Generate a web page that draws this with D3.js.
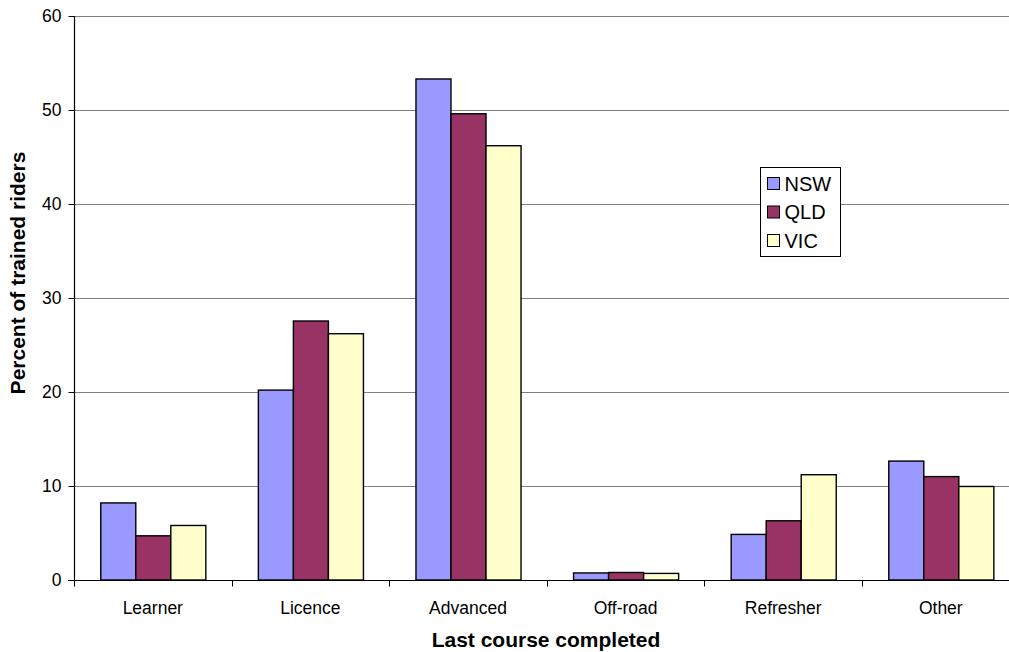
<!DOCTYPE html>
<html>
<head>
<meta charset="utf-8">
<script src="https://cdn.jsdelivr.net/npm/d3@7"></script>
<style>
  html, body { margin: 0; padding: 0; background: #fff; overflow: hidden; }
  svg { display: block; font-family: "Liberation Sans", Arial, sans-serif; }
</style>
</head>
<body>
<svg id="chart" width="1009" height="652"></svg>
<script>
// Last course completed by trained riders, by state (percent)
const categories = ["Learner", "Licence", "Advanced", "Off-road", "Refresher", "Other"];
const seriesNames = ["NSW", "QLD", "VIC"];
const nsw = [8.2, 20.2, 53.3, 0.75, 4.85, 12.65];
const qld = [4.7, 27.55, 49.6, 0.8, 6.3, 11.0];
const vic = [5.8, 26.2, 46.2, 0.7, 11.2, 9.95];
const seriesColors = ["#9999FF", "#993366", "#FFFFCC"];
const yTicks = [0, 10, 20, 30, 40, 50, 60];

const values = [nsw, qld, vic];

(function draw() {
  const svg = d3.select("#chart");
  const plotLeft = 74, plotTop = 16, plotBottom = 580;
  const bandW = 157.6;
  const plotRight = plotLeft + bandW * categories.length;

  const x0 = d3.scaleBand().domain(categories).range([plotLeft, plotRight]).padding(0);
  const x1 = d3.scaleBand().domain(seriesNames)
    .range([x0.bandwidth() / 6, x0.bandwidth() * 5 / 6]).padding(0);
  const y = d3.scaleLinear().domain([0, 60]).range([plotBottom, plotTop]);

  // Horizontal gridlines
  svg.append("g")
    .selectAll("line")
    .data(yTicks.filter(t => t > 0))
    .join("line")
    .attr("x1", plotLeft).attr("x2", plotRight)
    .attr("y1", d => Math.round(y(d)) + 0.5).attr("y2", d => Math.round(y(d)) + 0.5)
    .attr("stroke", "#808080").attr("stroke-width", 1);

  // Bars
  const groups = svg.append("g")
    .selectAll("g")
    .data(categories)
    .join("g")
    .attr("transform", d => `translate(${x0(d)},0)`);

  groups.selectAll("rect")
    .data((c, i) => seriesNames.map((s, j) => ({ s, j, v: values[j][i] })))
    .join("rect")
    .attr("x", d => x1(d.s) + 0.5)
    .attr("y", d => y(d.v))
    .attr("width", x1.bandwidth())
    .attr("height", d => y(0) - y(d.v))
    .attr("fill", d => seriesColors[d.j])
    .attr("stroke", "#000")
    .attr("stroke-width", 1.4);

  // Y axis
  const yAxis = svg.append("g")
    .attr("transform", `translate(${plotLeft + 0.5},0)`)
    .call(d3.axisLeft(y).tickValues(yTicks).tickSize(6).tickPadding(7).tickFormat(d3.format("d")));
  yAxis.select(".domain").attr("stroke", "#000").attr("stroke-width", 1.2)
    .attr("d", `M0,${plotTop}V${plotBottom}`);
  yAxis.selectAll(".tick line").attr("stroke", "#000");
  yAxis.selectAll(".tick text").attr("font-size", 17.5).attr("fill", "#000")
    .attr("font-family", "Liberation Sans, Arial, sans-serif");

  // X axis with ticks at category boundaries
  const xAxisG = svg.append("g").attr("transform", `translate(0,${plotBottom + 0.5})`);
  xAxisG.append("line")
    .attr("x1", plotLeft - 6).attr("x2", plotRight)
    .attr("stroke", "#000").attr("stroke-width", 1.2);
  const boundaries = categories.map(c => x0(c)).concat([plotRight]);
  xAxisG.selectAll("line.tk")
    .data(boundaries)
    .join("line")
    .attr("class", "tk")
    .attr("x1", d => Math.round(d) + 0.5).attr("x2", d => Math.round(d) + 0.5)
    .attr("y1", 0).attr("y2", 6)
    .attr("stroke", "#000");
  xAxisG.selectAll("text")
    .data(categories)
    .join("text")
    .attr("x", d => x0(d) + x0.bandwidth() / 2)
    .attr("y", 33)
    .attr("text-anchor", "middle")
    .attr("font-size", 17.5)
    .attr("fill", "#000")
    .text(d => d);

  // Axis titles
  svg.append("text")
    .attr("x", 546).attr("y", 647)
    .attr("text-anchor", "middle")
    .attr("font-size", 21).attr("font-weight", "bold")
    .text("Last course completed");

  svg.append("text")
    .attr("transform", "translate(25,273) rotate(-90)")
    .attr("text-anchor", "middle")
    .attr("font-size", 21).attr("font-weight", "bold")
    .text("Percent of trained riders");

  // Legend
  const legend = svg.append("g").attr("transform", "translate(760.5,167.5)");
  legend.append("rect")
    .attr("width", 80).attr("height", 89)
    .attr("fill", "#fff").attr("stroke", "#000").attr("stroke-width", 1);
  const items = legend.selectAll("g")
    .data(seriesNames)
    .join("g")
    .attr("transform", (d, i) => `translate(7,${16 + i * 28.5})`);
  items.append("rect")
    .attr("x", 0).attr("y", -6)
    .attr("width", 12).attr("height", 12)
    .attr("fill", (d, i) => seriesColors[i])
    .attr("stroke", "#000").attr("stroke-width", 1);
  items.append("text")
    .attr("x", 17).attr("y", 0)
    .attr("dy", "0.36em")
    .attr("font-size", 20)
    .attr("fill", "#000")
    .text(d => d);
})();
</script>
</body>
</html>
